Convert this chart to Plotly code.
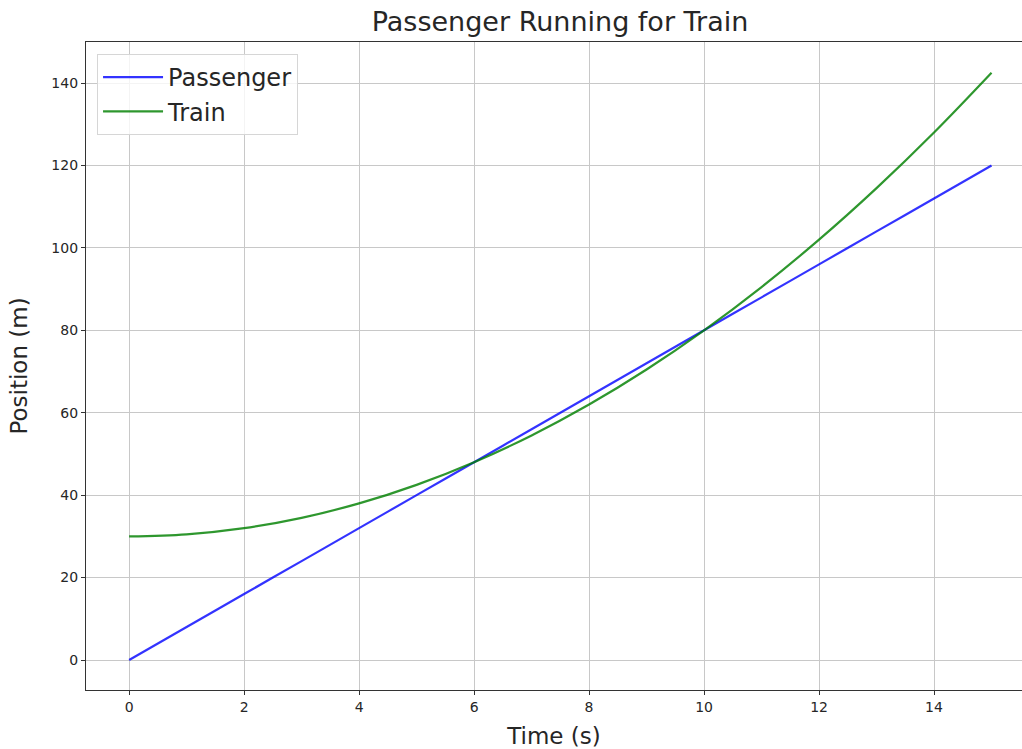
import plotly.graph_objects as go

# Data
time_s = [0, 1, 2, 3, 4, 5, 6, 7, 8, 9, 10, 11, 12, 13, 14, 15]
passenger_m = [0, 8, 16, 24, 32, 40, 48, 56, 64, 72, 80, 88, 96, 104, 112, 120]
train_m = [30, 30.5, 32, 34.5, 38, 42.5, 48, 54.5, 62, 70.5, 80, 90.5, 102, 114.5, 128, 142.5]
x_ticks = [0, 2, 4, 6, 8, 10, 12, 14]
y_ticks = [0, 20, 40, 60, 80, 100, 120, 140]

FONT = "DejaVu Sans"

fig = go.Figure()
fig.add_trace(go.Scatter(x=time_s, y=passenger_m, mode="lines", name="Passenger",
                         line=dict(color="rgba(0,0,255,0.8)", width=2.2, shape="spline")))
fig.add_trace(go.Scatter(x=time_s, y=train_m, mode="lines", name="Train",
                         line=dict(color="rgba(0,128,0,0.82)", width=2.2, shape="spline")))

fig.update_layout(
    width=1022, height=749,
    margin=dict(l=86, r=0, t=42, b=59),
    paper_bgcolor="white", plot_bgcolor="white",
    font=dict(family=FONT, color="#262626"),
    title=dict(text="Passenger Running for Train", x=0.548, xanchor="center",
               y=0.9706, yanchor="middle", font=dict(size=27, color="#262626", family=FONT)),
    showlegend=True,
    legend=dict(x=0.0118, y=0.9815, xanchor="left", yanchor="top",
                bgcolor="rgba(255,255,255,0.8)", bordercolor="#d6d6d6", borderwidth=1,
                font=dict(size=24, family=FONT, color="#262626"),
                itemwidth=60, tracegroupgap=0),
)
fig.update_xaxes(range=[-0.75, 15.53], tickvals=x_ticks, ticks="outside", ticklen=4,
                 tickcolor="#333", showline=True, linecolor="#333", linewidth=1.2, mirror=True,
                 showgrid=True, gridcolor="#c8c8c8", gridwidth=1, zeroline=False, automargin=False,
                 tickfont=dict(size=14, family=FONT, color="#262626"),
                 title=dict(text="Time (s)", font=dict(size=23, family=FONT, color="#262626"), standoff=19))
fig.update_yaxes(range=[-7.28, 149.96], tickvals=y_ticks, ticks="outside", ticklen=4,
                 tickcolor="#333", showline=True, linecolor="#333", linewidth=1.2, mirror=False,
                 showgrid=True, gridcolor="#c8c8c8", gridwidth=1, zeroline=False, automargin=False,
                 tickfont=dict(size=14, family=FONT, color="#262626"),
                 title=dict(text="Position (m)", font=dict(size=23, family=FONT, color="#262626"), standoff=17))

fig.write_html("out.html",
               config={"displayModeBar": False},
               post_script="document.body.style.margin='0';document.body.style.overflow='hidden';")
